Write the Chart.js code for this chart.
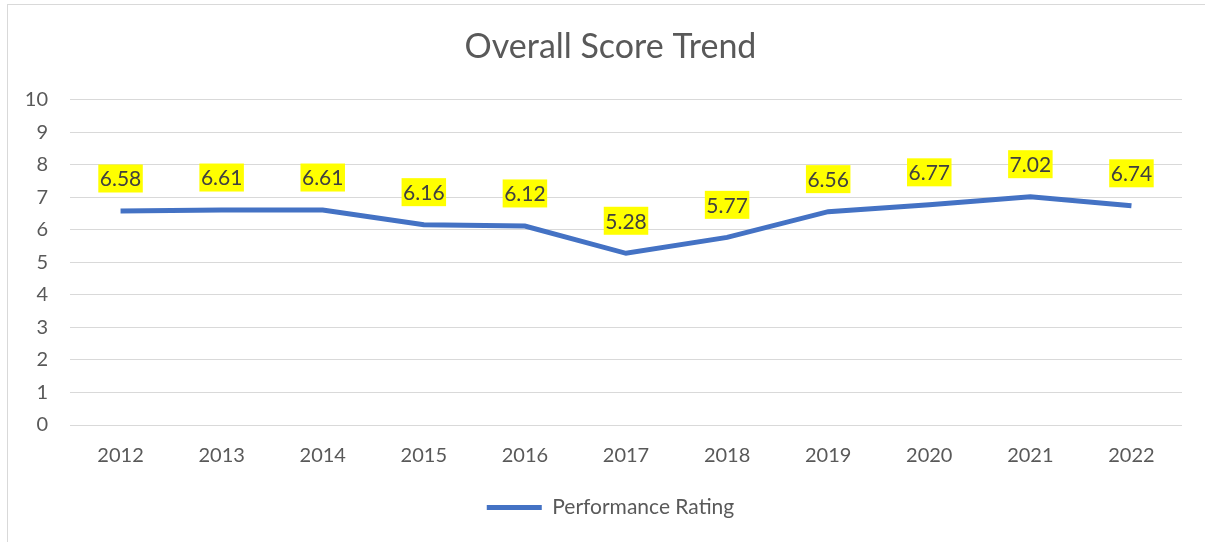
<!DOCTYPE html>
<html>
<head>
<meta charset="utf-8">
<script src="https://cdn.jsdelivr.net/npm/chart.js@4.4.1/dist/chart.umd.min.js"></script>
<style>
  html, body { margin: 0; padding: 0; background: #fff; }
  body { width: 1205px; height: 542px; position: relative; overflow: hidden; }
  #frame { position: absolute; left: 7px; top: 4px; width: 1210px; height: 560px;
           border: 1px solid #d9d9d9; box-sizing: border-box; }
  #wrap { position: absolute; left: 0; top: 0; width: 1205px; height: 542px; }
</style>
</head>
<body>
<div id="frame"></div>
<div id="wrap"><canvas id="chart"></canvas></div>
<script>
  const years = ['2012', '2013', '2014', '2015', '2016', '2017', '2018', '2019', '2020', '2021', '2022'];
  const ratings = [6.58, 6.61, 6.61, 6.16, 6.12, 5.28, 5.77, 6.56, 6.77, 7.02, 6.74];
  const seriesName = 'Performance Rating';
  const chartTitle = 'Overall Score Trend';

  const FONT = 'Lato, "Open Sans", sans-serif';
  const GREY = '#595959';

  // yellow-box value labels above each point
  const valueLabels = {
    id: 'valueLabels',
    afterDatasetsDraw(chart) {
      const { ctx } = chart;
      const meta = chart.getDatasetMeta(0);
      const yScale = chart.scales.y;
      const unit = Math.abs(yScale.getPixelForValue(1) - yScale.getPixelForValue(0));
      ctx.save();
      ctx.font = '21px ' + FONT;
      ctx.textAlign = 'center';
      ctx.textBaseline = 'middle';
      meta.data.forEach((pt, i) => {
        const txt = ratings[i].toFixed(2);
        const w = ctx.measureText(txt).width + 3;
        const h = 28;
        const cy = pt.y - unit;
        ctx.fillStyle = '#ffff00';
        ctx.fillRect(pt.x - w / 2, cy - h / 2, w, h);
        ctx.fillStyle = '#404040';
        ctx.fillText(txt, pt.x, cy + 1);
      });
      ctx.restore();
    }
  };

  new Chart(document.getElementById('chart'), {
    type: 'line',
    data: {
      labels: years,
      datasets: [{
        label: seriesName,
        data: ratings,
        borderColor: '#4472C4',
        backgroundColor: '#4472C4',
        borderWidth: 5,
        pointRadius: 0,
        tension: 0,
        fill: false
      }]
    },
    options: {
      responsive: true,
      maintainAspectRatio: false,
      animation: false,
      layout: { padding: { left: 16, right: 0, top: 0, bottom: 14 } },
      plugins: {
        title: {
          display: true,
          text: chartTitle,
          color: GREY,
          font: { family: FONT, size: 34, weight: 'normal' },
          padding: { top: 27, bottom: 32 }
        },
        legend: {
          position: 'bottom',
          labels: {
            color: GREY,
            font: { family: FONT, size: 21 },
            usePointStyle: true,
            pointStyle: 'line',
            pointStyleWidth: 55,
            padding: 10
          }
        },
        tooltip: { enabled: false }
      },
      scales: {
        y: {
          min: 0, max: 10,
          ticks: { stepSize: 1, color: GREY, font: { family: FONT, size: 20 }, padding: 22 },
          grid: { color: '#d9d9d9', lineWidth: 1, drawTicks: false },
          border: { display: false },
          afterFit: (s) => { s.width = 54; }
        },
        // empty right-hand spacer so the plot ends short of the frame edge
        yRight: {
          position: 'right',
          display: true,
          min: 0, max: 10,
          ticks: { display: false },
          grid: { display: false, drawTicks: false },
          border: { display: false },
          afterFit: (s) => { s.width = 23; }
        },
        x: {
          offset: true,
          ticks: { color: GREY, font: { family: FONT, size: 20 }, padding: 19, maxRotation: 0 },
          grid: { display: false, drawTicks: false },
          border: { display: false },
          afterFit: (s) => { s.height = 62; }
        }
      }
    },
    plugins: [valueLabels]
  });
</script>
</body>
</html>
